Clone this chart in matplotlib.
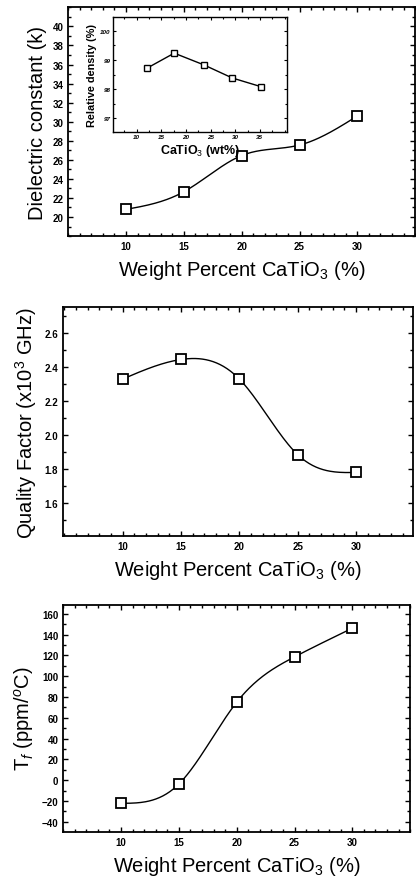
import numpy as np
import matplotlib
matplotlib.use('Agg')
import matplotlib.pyplot as plt
from matplotlib.ticker import MultipleLocator, FormatStrFormatter

plt.rcParams['font.family'] = ['Liberation Sans', 'DejaVu Sans']
plt.rcParams['mathtext.fontset'] = 'custom'
plt.rcParams['mathtext.rm'] = 'Liberation Sans'
plt.rcParams['mathtext.it'] = 'Liberation Sans:italic'

# data
wt = [10, 15, 20, 25, 30]
k = [20.8, 22.65, 26.45, 27.55, 30.6]
qf = [2.33, 2.445, 2.33, 1.885, 1.78]
tf = [-22.3, -3.7, 75.0, 118.6, 146.2]

inset_wt = [12.0, 17.6, 23.6, 29.4, 35.3]
inset_rd = [98.71, 99.23, 98.83, 98.38, 98.08]

k_ticks = [20, 22, 24, 26, 28, 30, 32, 34, 36, 38, 40]
qf_ticks = [1.6, 1.8, 2.0, 2.2, 2.4, 2.6]
tf_ticks = [-40, -20, 0, 20, 40, 60, 80, 100, 120, 140, 160]
inset_xticks = [10, 15, 20, 25, 30, 35]
inset_yticks = [97, 98, 99, 100]


def spline(x, y, n=200):
    # natural cubic spline through the points
    x = np.asarray(x, float)
    y = np.asarray(y, float)
    m = len(x)
    h = np.diff(x)
    A = np.zeros((m, m))
    b = np.zeros(m)
    A[0, 0] = A[-1, -1] = 1
    for i in range(1, m - 1):
        A[i, i - 1] = h[i - 1]
        A[i, i] = 2 * (h[i - 1] + h[i])
        A[i, i + 1] = h[i]
        b[i] = 6 * ((y[i + 1] - y[i]) / h[i] - (y[i] - y[i - 1]) / h[i - 1])
    M = np.linalg.solve(A, b)
    xs = np.linspace(x[0], x[-1], n)
    j = np.clip(np.searchsorted(x, xs) - 1, 0, m - 2)
    t0 = x[j + 1] - xs
    t1 = xs - x[j]
    hj = h[j]
    ys = (M[j] * t0**3 + M[j + 1] * t1**3) / (6 * hj) \
        + (y[j] / hj - M[j] * hj / 6) * t0 + (y[j + 1] / hj - M[j + 1] * hj / 6) * t1
    return xs, ys


def style(ax, yticks, ymin, size=7):
    ax.xaxis.set_minor_locator(MultipleLocator(1))
    ax.yaxis.set_minor_locator(MultipleLocator(ymin))
    ax.set_xticks(wt)
    ax.set_yticks(yticks)
    ax.tick_params(which='both', direction='in', top=True, right=True, width=1)
    ax.tick_params(which='major', length=3.5, labelsize=size)
    ax.tick_params(which='minor', length=2)
    for lab in ax.get_xticklabels() + ax.get_yticklabels():
        lab.set_fontweight('bold')
    for s in ax.spines.values():
        s.set_linewidth(1.3)


def draw(ax, x, y, ms=7):
    xs, ys = spline(x, y)
    ax.plot(xs, ys, color='black', lw=1.0)
    ax.plot(x, y, 's', ms=ms, mfc='white', mec='black', mew=1.3)


fig = plt.figure(figsize=(4.16, 8.78), dpi=100)

xlab = 'Weight Percent CaTiO$_3$ (%)'
lab_fs = 14.5

ax1 = fig.add_axes([0.164, 0.730, 0.834, 0.2605])
draw(ax1, wt, k)
ax1.set_xlim(5, 35)
ax1.set_ylim(18, 42)
style(ax1, k_ticks, 1)
ax1.set_xlabel(xlab, fontsize=lab_fs, labelpad=5)
ax1.set_ylabel('Dielectric constant (k)', fontsize=lab_fs, labelpad=4)

ins = fig.add_axes([0.272, 0.849, 0.418, 0.130])
ins.plot(inset_wt, inset_rd, '-', color='black', lw=1.0)
ins.plot(inset_wt, inset_rd, 's', ms=4, mfc='white', mec='black', mew=1.0)
ins.set_xlim(5.2, 40.5)
ins.set_ylim(96.55, 100.45)
ins.xaxis.set_minor_locator(MultipleLocator(2.5))
ins.yaxis.set_minor_locator(MultipleLocator(0.5))
ins.set_xticks(inset_xticks)
ins.set_yticks(inset_yticks)
ins.tick_params(which='both', direction='in', top=True, right=True, width=0.8)
ins.tick_params(which='major', length=2.5, labelsize=4.5, pad=2)
ins.tick_params(which='minor', length=1.5)
for lab in ins.get_xticklabels() + ins.get_yticklabels():
    lab.set_fontweight('bold')
    lab.set_fontstyle('italic')
for s in ins.spines.values():
    s.set_linewidth(1.0)
ins.set_xlabel('CaTiO$_3$ (wt%)', fontsize=9, fontweight='bold', labelpad=2)
ins.set_ylabel('Relative density (%)', fontsize=7.8, fontweight='bold', labelpad=2)

ax2 = fig.add_axes([0.152, 0.388, 0.841, 0.261])
draw(ax2, wt, qf)
ax2.set_xlim(4.9, 34.9)
ax2.set_ylim(1.404, 2.753)
style(ax2, qf_ticks, 0.1)
ax2.yaxis.set_major_formatter(FormatStrFormatter('%.1f'))
for lab in ax2.get_yticklabels():
    lab.set_fontweight('bold')
ax2.set_xlabel(xlab, fontsize=lab_fs, labelpad=5)
ax2.set_ylabel('Quality Factor (x10$^3$ GHz)', fontsize=lab_fs, labelpad=4)

ax3 = fig.add_axes([0.152, 0.0516, 0.834, 0.2584])
draw(ax3, wt, tf)
ax3.set_xlim(5, 35)
ax3.set_ylim(-49.6, 168.7)
style(ax3, tf_ticks, 10)
ax3.set_xlabel(xlab, fontsize=lab_fs, labelpad=5)
ax3.set_ylabel('T$_{\\mathit{f}}$ (ppm/$^o$C)', fontsize=lab_fs, labelpad=4)

fig.savefig('out.png', dpi=100)
